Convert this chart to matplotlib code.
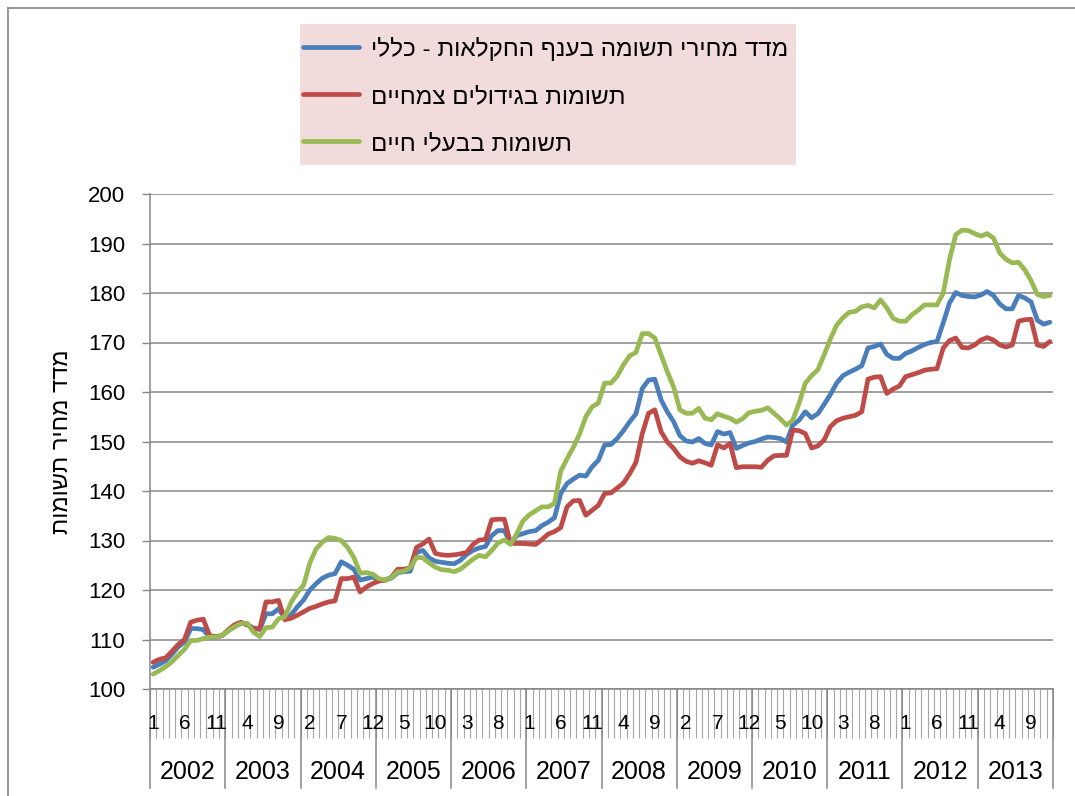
import matplotlib
matplotlib.use("Agg")
import matplotlib.pyplot as plt
import matplotlib.transforms as mtransforms
from matplotlib.lines import Line2D
from matplotlib.patches import Rectangle

plt.rcParams["font.family"] = ["Liberation Sans", "DejaVu Sans"]

# monthly index values, Jan 2002 .. Dec 2013
years = list(range(2002, 2014))

general = [
    104.4, 105.0, 105.7, 107.0, 108.5, 109.5, 112.2, 112.2, 112.0, 110.5, 110.5, 110.8,
    111.8, 112.6, 113.3, 113.0, 112.3, 112.0, 115.2, 115.2, 116.2, 114.3, 115.0, 116.6,
    118.0, 120.0, 121.3, 122.4, 123.0, 123.3, 125.7, 125.0, 124.2, 122.0, 122.3, 122.6,
    122.0, 122.0, 122.4, 123.5, 123.7, 123.8, 127.6, 128.0, 126.5, 125.8, 125.6, 125.4,
    125.3, 126.0, 127.2, 128.0, 128.5, 128.8, 131.0, 132.0, 132.0, 129.5, 131.0, 131.4,
    131.8, 132.0, 133.0, 133.7, 134.6, 139.5, 141.5, 142.4, 143.2, 143.0, 144.9, 146.2,
    149.3, 149.4, 150.6, 152.2, 154.0, 155.6, 160.7, 162.4, 162.6, 158.4, 156.0, 154.0,
    151.2, 150.1, 149.9, 150.6, 149.6, 149.3, 152.0, 151.5, 151.8, 148.6, 149.2, 149.7,
    150.0, 150.5, 150.9, 150.8, 150.6, 149.9, 153.3, 154.3, 156.0, 154.8, 155.6, 157.5,
    159.5, 161.8, 163.3, 164.0, 164.6, 165.3, 168.9, 169.2, 169.7, 167.6, 166.8, 166.8,
    167.8, 168.3, 169.0, 169.6, 170.0, 170.2, 174.0, 178.0, 180.1, 179.5, 179.3, 179.2,
    179.6, 180.3, 179.5, 177.8, 176.8, 176.8, 179.5, 179.0, 178.2, 174.5, 173.7, 174.1,
]

crops = [
    105.4, 106.0, 106.3, 107.6, 109.0, 110.0, 113.5, 113.9, 114.1, 110.8, 110.6, 110.8,
    112.0, 113.0, 113.5, 113.0, 112.2, 112.2, 117.6, 117.6, 117.9, 114.0, 114.3, 114.9,
    115.6, 116.3, 116.7, 117.2, 117.6, 117.8, 122.3, 122.3, 122.6, 119.6, 120.6, 121.3,
    121.8, 122.0, 122.6, 124.2, 124.2, 124.5, 128.6, 129.3, 130.3, 127.4, 127.1, 127.0,
    127.1, 127.3, 127.6, 129.2, 130.1, 130.2, 134.2, 134.3, 134.3, 129.4, 129.4, 129.4,
    129.3, 129.2, 130.2, 131.3, 131.8, 132.6, 136.8, 138.0, 138.1, 135.1, 136.1, 137.1,
    139.5, 139.6, 140.6, 141.6, 143.5, 145.8, 151.6, 155.7, 156.4, 152.0, 149.9, 148.6,
    146.9, 146.0, 145.6, 146.1, 145.7, 145.2, 149.3, 148.7, 149.6, 144.7, 144.9, 144.9,
    144.9, 144.8, 146.2, 147.1, 147.2, 147.2, 152.3, 152.2, 151.6, 148.7, 149.1, 150.3,
    153.0, 154.2, 154.7, 155.0, 155.3, 156.0, 162.6, 163.0, 163.1, 159.7, 160.6, 161.2,
    163.1, 163.5, 163.9, 164.4, 164.6, 164.7, 168.9, 170.4, 170.9, 169.0, 168.9, 169.5,
    170.5, 171.0, 170.5, 169.5, 169.1, 169.5, 174.3, 174.6, 174.7, 169.5, 169.2, 170.2,
]

livestock = [
    103.0, 103.7, 104.5, 105.5, 106.8, 108.0, 109.8, 109.8, 110.2, 110.5, 110.5, 110.8,
    111.8, 112.6, 113.2, 113.3, 111.5, 110.6, 112.4, 112.5, 114.2, 114.6, 117.5, 119.5,
    121.0, 125.5, 128.3, 129.7, 130.6, 130.4, 130.0, 128.6, 126.6, 123.4, 123.5, 123.2,
    122.3, 122.0, 122.5, 123.7, 123.8, 124.5, 126.6, 126.5, 125.5, 124.6, 124.1, 124.0,
    123.7, 124.2, 125.2, 126.2, 127.0, 126.7, 128.0, 129.5, 130.1, 129.2, 131.4, 134.0,
    135.2, 136.0, 136.8, 136.8, 137.5, 144.0, 146.5, 148.8, 151.5, 155.0, 157.0, 157.8,
    161.8, 161.8, 163.2, 165.5, 167.3, 168.0, 171.8, 171.8, 170.9, 167.5, 164.1, 161.0,
    156.4, 155.7, 155.7, 156.7, 154.7, 154.4, 155.6, 155.1, 154.7, 153.9, 154.6, 155.8,
    156.1, 156.3, 156.8, 155.7, 154.6, 153.3, 154.3, 157.7, 161.8, 163.3, 164.5, 167.5,
    170.7, 173.5, 175.0, 176.1, 176.3, 177.2, 177.5, 177.0, 178.6, 177.0, 174.9, 174.3,
    174.3, 175.6, 176.5, 177.6, 177.6, 177.6, 180.0, 186.8, 191.8, 192.7, 192.6, 192.0,
    191.5, 192.0, 191.1, 188.1, 186.8, 186.1, 186.2, 184.7, 182.5, 179.7, 179.3, 179.5,
]

labels = [
    "מדד מחירי תשומה בענף החקלאות - כללי",
    "תשומות בגידולים צמחיים",
    "תשומות בבעלי חיים",
]
ylabel = "מדד מחיר תשומות"


def rtl(s):
    # matplotlib has no bidi support, so put hebrew into visual order
    return s[::-1]


GRAY = "#868686"
W, H = 1075, 796
n = len(general)
x = list(range(n))

fig = plt.figure(figsize=(W / 100, H / 100), dpi=100)
ax = fig.add_axes([150 / W, 107 / H, 903 / W, 495 / H])

ax.plot(x, general, color="#4A7EBB", lw=3.4, label=rtl(labels[0]), solid_capstyle="round")
ax.plot(x, crops, color="#BE4B48", lw=3.4, label=rtl(labels[1]), solid_capstyle="round")
ax.plot(x, livestock, color="#98B954", lw=3.4, label=rtl(labels[2]), solid_capstyle="round")

ax.set_xlim(-0.5, n - 0.5)
ax.set_ylim(100, 200)
ax.set_yticks(range(100, 201, 10))
ax.yaxis.grid(True, color=GRAY, lw=1.1)
ax.set_axisbelow(True)
ax.tick_params(axis="y", direction="out", length=6, width=1, color=GRAY,
               labelsize=16, pad=12)

for s in ["top", "right"]:
    ax.spines[s].set_visible(False)
for s in ["left", "bottom"]:
    ax.spines[s].set_color(GRAY)
    ax.spines[s].set_linewidth(1.1)

# month ticks between categories
ax.set_xticks([i - 0.5 for i in range(n + 1)])
ax.set_xticklabels([])
ax.tick_params(axis="x", direction="out", length=35, width=0.8, color="#A6A6A6")

trans = mtransforms.blended_transform_factory(ax.transData, ax.transAxes)
for i in range(0, n, 5):
    ax.text(i, -0.069, str(i % 12 + 1), transform=trans, ha="center", va="center",
            fontsize=15)

for k, yr in enumerate(years):
    ax.text(12 * k + 5.5, -0.168, str(yr), transform=trans, ha="center", va="center",
            fontsize=18)
for k in range(len(years) + 1):
    ax.plot([12 * k - 0.5, 12 * k - 0.5], [0, -0.2], transform=trans, color=GRAY,
            lw=1.1, clip_on=False)

fig.text(62 / W, 1 - 442 / H, rtl(ylabel), rotation=90, ha="center", va="center",
         fontsize=17)

# legend on a pink panel
fig.add_artist(Rectangle((300 / W, 1 - 165 / H), 496 / W, 141 / H,
                         transform=fig.transFigure, facecolor="#F2DCDB",
                         edgecolor="none", zorder=0))
leg = fig.legend(loc="upper left", bbox_to_anchor=(303 / W, 1 - 37 / H),
                 fontsize=17.5, frameon=False, handlelength=2.3,
                 handletextpad=0.5, labelspacing=1.02, borderpad=0,
                 borderaxespad=0)

# outer chart border (cropped)
fig.add_artist(Line2D([8 / W, 8 / W], [0, 1 - 8 / H], color=GRAY, lw=1.2))
fig.add_artist(Line2D([8 / W, 1], [1 - 8 / H, 1 - 8 / H], color=GRAY, lw=1.2))

fig.savefig("out.png", dpi=100)
plt.close(fig)
